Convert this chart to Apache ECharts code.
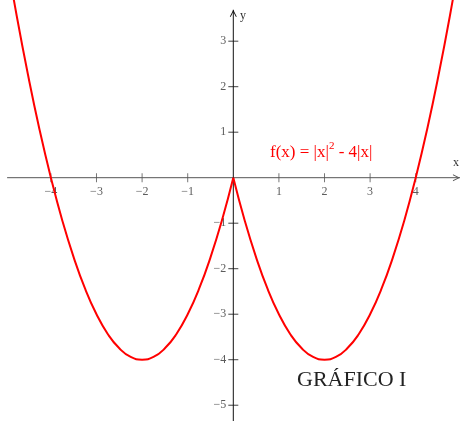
<!DOCTYPE html>
<html>
<head>
<meta charset="utf-8">
<style>
  html, body { margin: 0; padding: 0; background: #fff; }
  #chart { width: 462px; height: 421px; }
</style>
<script src="https://cdn.jsdelivr.net/npm/echarts@6/dist/echarts.min.js"></script>
</head>
<body>
<div id="chart"></div>
<script>
// f(x) = |x|^2 - 4|x|, sampled along each branch
const leftX  = [-5, -4.75, -4.5, -4.25, -4, -3.75, -3.5, -3.25, -3, -2.75, -2.5,
                -2.25, -2, -1.75, -1.5, -1.25, -1, -0.75, -0.5, -0.25, 0];
const leftY  = [5, 3.56, 2.25, 1.06, 0, -0.94, -1.75, -2.44, -3, -3.44, -3.75,
                -3.94, -4, -3.94, -3.75, -3.44, -3, -2.44, -1.75, -0.94, 0];
const rightX = [0, 0.25, 0.5, 0.75, 1, 1.25, 1.5, 1.75, 2, 2.25, 2.5,
                2.75, 3, 3.25, 3.5, 3.75, 4, 4.25, 4.5, 4.75, 5];
const rightY = [0, -0.94, -1.75, -2.44, -3, -3.44, -3.75, -3.94, -4, -3.94, -3.75,
                -3.44, -3, -2.44, -1.75, -0.94, 0, 1.06, 2.25, 3.56, 5];

// tick marks and labels on both axes
const xTicks = [-4, -3, -2, -1, 1, 2, 3, 4];
const yTicks = [-5, -4, -3, -2, -1, 1, 2, 3];

// visible span of the drawn axis lines
const xAxisSpan = [-4.96, 4.97];
const yAxisSpan = [-5.4, 3.69];

const X_AXIS = '#555';
const Y_AXIS = '#111';
const LABEL = '#333';
const RED = '#ff0000';
const SERIF = '"Liberation Serif", "DejaVu Serif", serif';

const pair = (xs, ys) => xs.map((x, i) => [x, ys[i]]);
const minus = v => String(v).replace('-', '\u2212');

// open chevron arrowhead pointing up, tip at the centre of its box
const chevron = 'path://M5,0 L5.01,0 L5,0.01 Z M0,20 L5,10 L10,20 L8.6,20 L5,12.8 L1.4,20 Z';

const chart = echarts.init(document.getElementById('chart'), null, { renderer: 'canvas' });

const tickLabel = {
  show: true,
  color: LABEL,
  fontFamily: SERIF,
  fontSize: 12
};

chart.setOption({
  animation: false,
  backgroundColor: '#fff',
  grid: { left: 0, right: 0, top: 0, bottom: 0, containLabel: false, outerBoundsMode: 'none' },
  xAxis: {
    type: 'value',
    min: -5.116, max: 5.015,
    axisLine: { show: false },
    axisTick: { show: false },
    splitLine: { show: false },
    axisLabel: { show: false }
  },
  yAxis: {
    type: 'value',
    min: -5.347, max: 3.905,
    axisLine: { show: false },
    axisTick: { show: false },
    splitLine: { show: false },
    axisLabel: { show: false }
  },
  series: [
    {
      // horizontal axis line with arrowhead
      type: 'line',
      silent: true,
      clip: false,
      lineStyle: { color: X_AXIS, width: 1 },
      itemStyle: { color: X_AXIS },
      data: [
        { value: [xAxisSpan[0], 0], symbol: 'none' },
        { value: [xAxisSpan[1], 0], symbol: chevron, symbolSize: [7, 14], symbolRotate: -90 }
      ]
    },
    {
      // vertical axis line with arrowhead
      type: 'line',
      silent: true,
      clip: false,
      lineStyle: { color: Y_AXIS, width: 1 },
      itemStyle: { color: Y_AXIS },
      data: [
        { value: [0, yAxisSpan[0]], symbol: 'none' },
        { value: [0, yAxisSpan[1]], symbol: chevron, symbolSize: [7, 14], symbolRotate: 0 }
      ]
    },
    {
      // x tick marks crossing the axis, with their labels
      type: 'scatter',
      silent: true,
      symbol: 'rect',
      symbolSize: [1, 9],
      itemStyle: { color: X_AXIS },
      label: Object.assign({}, tickLabel, {
        position: 'bottom',
        distance: 4,
        formatter: p => minus(p.value[0])
      }),
      data: xTicks.map(v => [v, 0])
    },
    {
      // y tick marks crossing the axis, with their labels
      type: 'scatter',
      silent: true,
      symbol: 'rect',
      symbolSize: [10, 1],
      itemStyle: { color: Y_AXIS },
      label: Object.assign({}, tickLabel, {
        position: 'left',
        distance: 2,
        formatter: p => minus(p.value[1])
      }),
      data: yTicks.map(v => [0, v])
    },
    {
      type: 'line',
      smooth: true,
      showSymbol: false,
      silent: true,
      lineStyle: { color: RED, width: 2 },
      data: pair(leftX, leftY)
    },
    {
      type: 'line',
      smooth: true,
      showSymbol: false,
      silent: true,
      lineStyle: { color: RED, width: 2 },
      data: pair(rightX, rightY)
    }
  ],
  graphic: [
    {
      type: 'text', left: 453, top: 157, silent: true,
      style: { text: 'x', font: '12px ' + SERIF, fill: LABEL }
    },
    {
      type: 'text', left: 240, top: 10, silent: true,
      style: { text: 'y', font: '12px ' + SERIF, fill: LABEL }
    },
    {
      type: 'text', left: 270, top: 141, silent: true,
      style: {
        text: '{a|f(x) = |x|}{s|2}{a| - 4|x|}',
        rich: {
          a: { fontFamily: SERIF, fontSize: 17, fill: RED, color: RED, verticalAlign: 'bottom', lineHeight: 20 },
          s: { fontFamily: SERIF, fontSize: 11, fill: RED, color: RED, verticalAlign: 'top', padding: [0, 0, 8, 0] }
        }
      }
    },
    {
      type: 'text', left: 297, top: 369, silent: true,
      style: { text: 'GRÁFICO I', font: '22px ' + SERIF, fill: '#222' }
    }
  ]
});
</script>
</body>
</html>
